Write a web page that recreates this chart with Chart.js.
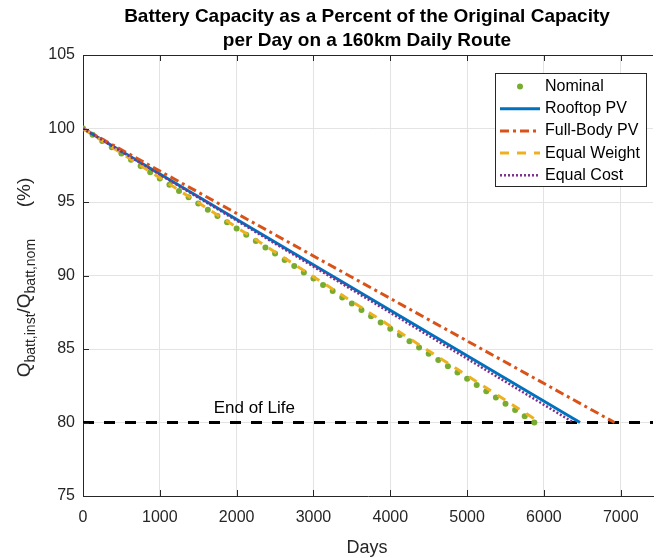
<!DOCTYPE html>
<html>
<head>
<meta charset="utf-8">
<script src="https://cdn.jsdelivr.net/npm/chart.js@4.4.1/dist/chart.umd.min.js"></script>
<style>
  body { margin: 0; background: #fff; }
  #wrap { width: 657px; height: 558px; }
</style>
</head>
<body>
<div id="wrap"><canvas id="capChart"></canvas></div>
<script>
// ---- data ----
const nominalDays = [0, 125, 250, 375, 500, 625, 750, 875, 1000, 1125, 1250, 1375, 1500, 1625, 1750, 1875,
  2000, 2125, 2250, 2375, 2500, 2625, 2750, 2875, 3000, 3125, 3250, 3375, 3500, 3625, 3750, 3875,
  4000, 4125, 4250, 4375, 4500, 4625, 4750, 4875, 5000, 5125, 5250, 5375, 5500, 5625, 5750, 5875];
const nominalCap = [100, 99.57, 99.15, 98.72, 98.30, 97.87, 97.45, 97.02, 96.60, 96.17, 95.74, 95.32, 94.89, 94.47, 94.04, 93.62,
  93.19, 92.77, 92.34, 91.91, 91.49, 91.06, 90.64, 90.21, 89.79, 89.36, 88.94, 88.51, 88.09, 87.66, 87.23, 86.81,
  86.38, 85.96, 85.53, 85.11, 84.68, 84.26, 83.83, 83.40, 82.98, 82.55, 82.13, 81.70, 81.28, 80.85, 80.43, 80.00];
const rooftopDays = [0, 6470];
const rooftopCap = [100, 80];
const fullBodyDays = [0, 6920];
const fullBodyCap = [100, 80];
const equalWeightDays = [0, 5950];
const equalWeightCap = [100, 80];
const equalCostDays = [0, 6385];
const equalCostCap = [100, 80];
const eolDays = [0, 7420];
const eolCap = [80, 80];

const xTicks = [0, 1000, 2000, 3000, 4000, 5000, 6000, 7000];
const yTicks = [75, 80, 85, 90, 95, 100, 105];

const seriesLabels = ['Nominal', 'Rooftop PV', 'Full-Body PV', 'Equal Weight', 'Equal Cost'];
const titleLines = ['Battery Capacity as a Percent of the Original Capacity', 'per Day on a 160km Daily Route'];

const FONT = '"Liberation Sans", Arial, Helvetica, sans-serif';
const AXIS = '#262626';

function pts(xs, ys) {
  return xs.map((x, i) => ({ x: x, y: ys[i] }));
}

// ===============================
// EXTRA DRAWING (MATLAB look)
// ===============================
const matlabDecor = {
  id: 'matlabDecor',
  afterDraw(chart) {
    const ctx = chart.ctx;
    const a = chart.chartArea;
    const xs = chart.scales.x, ys = chart.scales.y;
    ctx.save();

    // top border + inward ticks
    ctx.strokeStyle = AXIS;
    ctx.lineWidth = 1;
    ctx.beginPath();
    ctx.moveTo(a.left, a.top + 0.5);
    ctx.lineTo(a.right, a.top + 0.5);
    xTicks.forEach(v => {
      const px = Math.round(xs.getPixelForValue(v)) + 0.5;
      ctx.moveTo(px, a.top); ctx.lineTo(px, a.top + 6);
      ctx.moveTo(px, a.bottom); ctx.lineTo(px, a.bottom - 6);
    });
    yTicks.forEach(v => {
      const py = Math.round(ys.getPixelForValue(v)) + 0.5;
      ctx.moveTo(a.left, py); ctx.lineTo(a.left + 6, py);
    });
    ctx.stroke();

    // title
    ctx.fillStyle = '#000';
    ctx.textAlign = 'center';
    ctx.textBaseline = 'middle';
    ctx.font = 'bold 19px ' + FONT;
    const cx = (a.left + a.right - 2) / 2;
    ctx.fillText(titleLines[0], cx, 17);
    ctx.fillText(titleLines[1], cx, 41);

    // x axis title
    ctx.fillStyle = AXIS;
    ctx.font = '18px ' + FONT;
    ctx.fillText('Days', cx, 548);

    // y axis title with subscripts
    const parts = [
      ['Q', 19, 0], ['batt,inst', 14, 6], ['/Q', 19, 0], ['batt,nom', 14, 6], ['      (%)', 19, 0]
    ];
    let total = 0;
    parts.forEach(p => { ctx.font = p[1] + 'px ' + FONT; total += ctx.measureText(p[0]).width; });
    ctx.save();
    ctx.translate(25, (a.top + a.bottom) / 2 + 2);
    ctx.rotate(-Math.PI / 2);
    ctx.textAlign = 'left';
    ctx.textBaseline = 'middle';
    let tx = -total / 2;
    parts.forEach(p => {
      ctx.font = p[1] + 'px ' + FONT;
      ctx.fillText(p[0], tx, p[2]);
      tx += ctx.measureText(p[0]).width;
    });
    ctx.restore();

    // End of Life label
    ctx.fillStyle = '#000';
    ctx.font = '17px ' + FONT;
    ctx.textAlign = 'center';
    ctx.fillText('End of Life', xs.getPixelForValue(2230), ys.getPixelForValue(80.95));

    // legend
    const lx = 495.5, ly = 73.5, lw = 151, lh = 113;
    ctx.fillStyle = '#fff';
    ctx.fillRect(lx, ly, lw, lh);
    ctx.strokeStyle = AXIS;
    ctx.lineWidth = 1;
    ctx.strokeRect(lx, ly, lw, lh);
    ctx.textAlign = 'left';
    ctx.font = '16px ' + FONT;
    const dsets = chart.data.datasets;
    seriesLabels.forEach((lab, i) => {
      const ds = dsets[i];
      const y = ly + 13 + i * 22.2;
      if (ds.showLine === false) {
        ctx.fillStyle = ds.pointBackgroundColor;
        ctx.beginPath();
        ctx.arc(520, y, 3, 0, Math.PI * 2);
        ctx.fill();
      } else {
        ctx.strokeStyle = ds.borderColor;
        ctx.lineWidth = ds.borderWidth;
        ctx.setLineDash(ds.borderDash || []);
        ctx.beginPath();
        ctx.moveTo(500, y);
        ctx.lineTo(540, y);
        ctx.stroke();
        ctx.setLineDash([]);
      }
      ctx.fillStyle = '#000';
      ctx.fillText(lab, 545, y);
    });

    ctx.restore();
  }
};

// ===============================
// CHART
// ===============================
const ctx = document.getElementById('capChart');
new Chart(ctx, {
  type: 'scatter',
  data: {
    datasets: [
      {
        label: seriesLabels[0],
        data: pts(nominalDays, nominalCap),
        showLine: false,
        pointRadius: 3,
        pointBackgroundColor: '#77AC30',
        pointBorderWidth: 0,
        order: 5
      },
      {
        label: seriesLabels[1],
        data: pts(rooftopDays, rooftopCap),
        showLine: true,
        borderColor: '#0072BD',
        borderWidth: 3,
        pointRadius: 0,
        order: 4
      },
      {
        label: seriesLabels[2],
        data: pts(fullBodyDays, fullBodyCap),
        showLine: true,
        borderColor: '#D95319',
        borderWidth: 3,
        borderDash: [9, 4, 3, 4],
        pointRadius: 0,
        order: 3
      },
      {
        label: seriesLabels[3],
        data: pts(equalWeightDays, equalWeightCap),
        showLine: true,
        borderColor: '#EDB120',
        borderWidth: 3,
        borderDash: [9, 8],
        pointRadius: 0,
        order: 2
      },
      {
        label: seriesLabels[4],
        data: pts(equalCostDays, equalCostCap),
        showLine: true,
        borderColor: '#7E2F8E',
        borderWidth: 2.5,
        borderDash: [2, 2],
        pointRadius: 0,
        order: 1
      },
      {
        label: 'End of Life',
        data: pts(eolDays, eolCap),
        showLine: true,
        borderColor: '#000',
        borderWidth: 3,
        borderDash: [11, 10],
        pointRadius: 0,
        order: 6
      }
    ]
  },
  options: {
    responsive: true,
    maintainAspectRatio: false,
    animation: false,
    layout: { padding: { top: 55, left: 0, right: 0, bottom: 0 } },
    plugins: {
      legend: { display: false },
      tooltip: { enabled: false }
    },
    scales: {
      x: {
        type: 'linear',
        min: 0,
        max: 7420,
        afterBuildTicks: s => { s.ticks = xTicks.map(v => ({ value: v })); },
        afterFit: s => { s.height = 62; },
        grid: { color: '#e3e3e3', drawTicks: false },
        border: { color: AXIS, width: 1 },
        ticks: {
          padding: 12, color: AXIS, font: { family: FONT, size: 16 }, maxRotation: 0, autoSkip: false,
          callback: v => String(v)
        }
      },
      y: {
        min: 75,
        max: 105,
        afterBuildTicks: s => { s.ticks = yTicks.map(v => ({ value: v })); },
        afterFit: s => { s.width = 83; },
        grid: { color: '#e3e3e3', drawTicks: false },
        border: { color: AXIS, width: 1 },
        ticks: { padding: 8, color: AXIS, font: { family: FONT, size: 16 } }
      }
    }
  },
  plugins: [matlabDecor]
});
</script>
</body>
</html>
